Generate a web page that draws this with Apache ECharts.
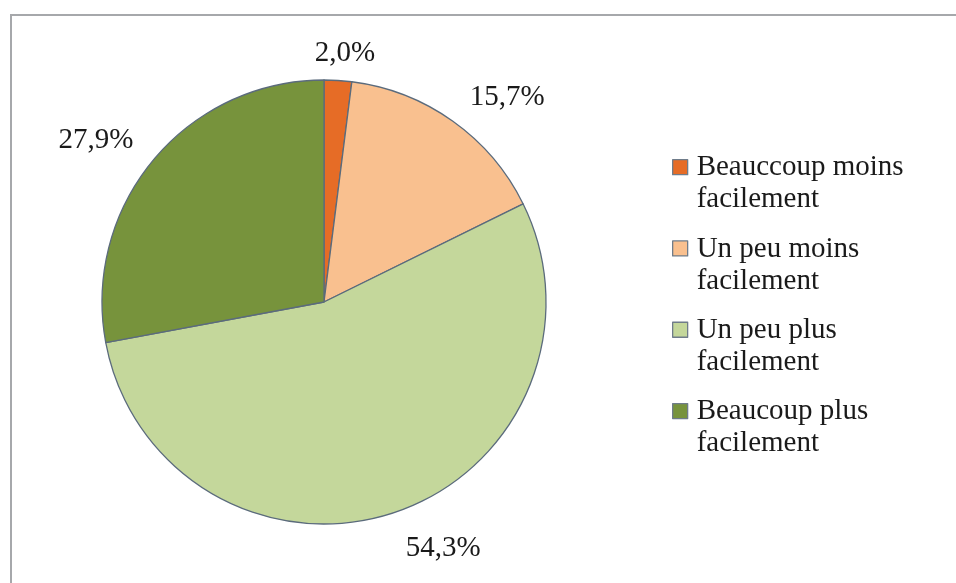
<!DOCTYPE html>
<html>
<head>
<meta charset="utf-8">
<script src="https://cdn.jsdelivr.net/npm/echarts@6.0.0/dist/echarts.min.js"></script>
<style>
html, body { margin: 0; padding: 0; background: #fff; }
#mainChart { width: 956px; height: 583px; }
</style>
</head>
<body>
<div id="mainChart"></div>
<script>
const categories = ['Beauccoup moins facilement', 'Un peu moins facilement', 'Un peu plus facilement', 'Beaucoup plus facilement'];
const legendLines = [['Beauccoup moins', 'facilement'], ['Un peu moins', 'facilement'], ['Un peu plus', 'facilement'], ['Beaucoup plus', 'facilement']];
const percents = [2.0, 15.7, 54.3, 27.9];
const colors = ['#E66C26', '#F9C08F', '#C4D79B', '#77933C'];
// per-slice label placement, mimicking Excel's "best fit"
const labelLen = [27, 29, 37.5, 31];
const labelGap = [-25, 0, 0, -4];

const font = '"Liberation Serif", "Times New Roman", serif';

echarts.init(document.getElementById('mainChart')).setOption({
	animation: false,
	backgroundColor: '#fff',
	color: colors,
	graphic: [{
		type: 'rect',
		shape: { x: 11, y: 15, width: 1000, height: 700 },
		style: { fill: 'none', stroke: '#A6A8AB', lineWidth: 2 },
		silent: true,
	}],
	legend: {
		orient: 'vertical',
		left: 667,
		top: 146,
		itemWidth: 19,
		itemHeight: 64,
		itemGap: 16,
		// square sits beside the first text line; the lone moves stretch the box
		icon: 'path://M0,8L15,8L15,23L0,23Z M0,0 M19,64',
		itemStyle: { borderColor: '#6F7C8A', borderWidth: 1.3 },
		formatter: name => legendLines[categories.indexOf(name)].join('\n'),
		textStyle: {
			fontFamily: font,
			fontSize: 29,
			lineHeight: 32,
			color: '#1a1a1a',
		},
		data: categories,
	},
	series: {
		type: 'pie',
		center: [324, 302],
		radius: 222,
		startAngle: 90,
		clockwise: true,
		itemStyle: { borderColor: '#5B6B7C', borderWidth: 1.3 },
		label: {
			show: true,
			position: 'outside',
			fontFamily: font,
			fontSize: 29,
			color: '#1a1a1a',
			formatter: p => p.value.toFixed(1).replace('.', ',') + '%',
		},
		labelLine: { show: false, length: 18, length2: 0 },
		emphasis: { disabled: true },
		data: categories.map((name, i) => ({
			name,
			value: percents[i],
			label: { distanceToLabelLine: labelGap[i] },
			labelLine: { show: false, length: labelLen[i], length2: 0 },
		})),
	},
});
</script>
</body>
</html>
